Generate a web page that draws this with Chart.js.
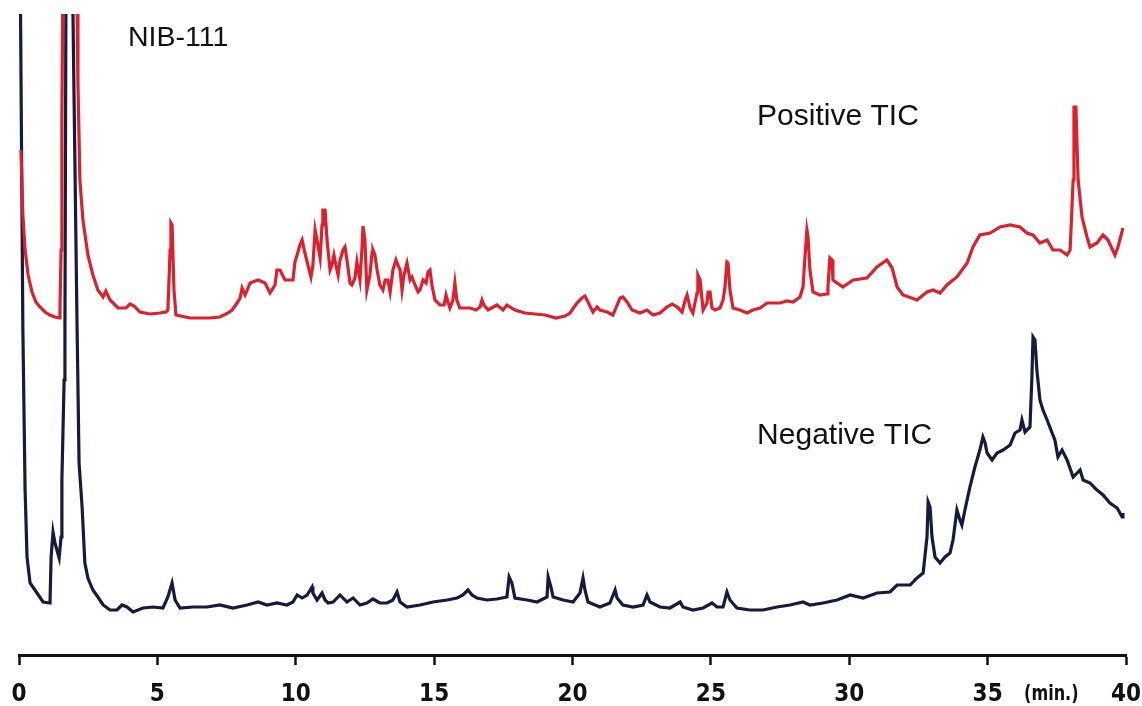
<!DOCTYPE html>
<html>
<head>
<meta charset="utf-8">
<title>NIB-111 TIC</title>
<script src="https://cdn.jsdelivr.net/npm/chart.js@4.4.1/dist/chart.umd.min.js"></script>
<style>
    html, body { margin: 0; padding: 0; background: #fff; overflow: hidden; }
    #wrap { width: 1142px; height: 706px; }
</style>
</head>
<body>
<div id="wrap"><canvas id="tic" width="1142" height="706"></canvas></div>
<script>
// retention time (min) and intensity (arbitrary units)
const posTime = [0.07,0.14,0.22,0.33,0.47,0.61,0.76,0.94,1.12,1.30,1.45,1.48,1.52,1.55,1.59,1.84,2.06,2.10,2.13,2.20,
    2.31,2.49,2.67,2.85,3.04,3.14,3.29,3.58,3.87,4.01,4.16,4.37,4.73,5.09,5.31,5.38,5.46,5.49,5.53,5.60,
    5.67,6.18,6.54,6.90,7.26,7.55,7.70,7.88,7.99,8.06,8.17,8.35,8.64,8.89,9.07,9.25,9.32,9.43,9.61,9.90,
    9.97,10.05,10.15,10.23,10.33,10.44,10.55,10.62,10.70,10.80,10.88,10.95,10.98,11.06,11.13,11.24,11.31,11.38,11.45,11.53,
    11.60,11.71,11.78,11.85,11.96,12.03,12.14,12.21,12.32,12.39,12.43,12.50,12.57,12.68,12.76,12.79,12.86,12.94,13.04,13.15,
    13.23,13.33,13.41,13.51,13.62,13.69,13.77,13.84,13.91,14.02,14.13,14.20,14.31,14.42,14.49,14.60,14.71,14.78,14.85,14.92,
    15.03,15.21,15.36,15.43,15.50,15.57,15.68,15.75,15.82,15.93,16.30,16.51,16.66,16.73,16.80,16.95,17.27,17.49,17.63,17.92,
    18.28,18.65,19.01,19.40,19.73,19.91,20.16,20.34,20.45,20.56,20.74,20.89,20.99,21.25,21.46,21.72,21.82,21.97,22.15,22.44,
    22.69,22.91,23.16,23.41,23.60,23.78,23.96,24.07,24.14,24.25,24.35,24.50,24.53,24.61,24.72,24.86,24.90,24.97,25.04,25.15,
    25.33,25.44,25.51,25.58,25.62,25.69,25.80,26.05,26.31,26.52,26.78,27.03,27.50,27.75,27.97,28.22,28.33,28.40,28.47,28.51,
    28.58,28.69,28.94,29.20,29.23,29.30,29.38,29.41,29.56,29.77,30.14,30.64,31.00,31.36,31.55,31.73,31.94,32.45,32.81,33.03,
    33.28,33.53,33.89,34.26,34.47,34.72,35.09,35.45,35.81,36.17,36.42,36.64,36.89,37.15,37.36,37.62,37.87,37.98,38.09,38.12,
    38.19,38.27,38.41,38.59,38.70,38.95,39.17,39.35,39.60,39.71,39.89];
const posInt = [505,440,405,380,363,353,348,343,340,338,337,345,405,535,700,800,700,641,572,475,
    435,400,380,365,358,364,355,347,347,351,349,343,341,342,343,345,405,432,430,365,
    340,337,337,337,338,342,345,352,357,367,360,372,375,372,362,370,385,385,375,375,
    393,400,410,415,402,390,378,390,425,410,397,430,445,445,415,385,390,400,390,380,
    395,405,408,395,372,370,377,393,375,405,429,415,365,380,403,405,400,385,370,365,
    375,375,363,385,395,390,385,365,380,392,375,378,370,363,365,375,372,383,385,370,
    355,350,350,360,353,347,355,372,355,347,347,345,348,355,350,345,350,345,350,345,
    342,341,340,337,339,342,352,357,359,353,343,348,345,343,340,357,358,353,345,342,
    345,340,342,348,351,348,343,355,360,347,342,362,380,375,345,352,363,363,347,345,
    347,355,368,393,392,365,347,345,342,345,347,352,352,354,353,358,368,398,425,418,
    385,363,360,361,368,397,395,375,372,368,375,377,388,395,387,368,360,355,363,365,
    362,370,378,392,408,420,422,428,430,428,422,420,412,415,405,405,400,405,475,548,
    548,475,438,418,408,412,420,415,400,408,427];

const negTime = [0.04,0.14,0.22,0.29,0.40,0.65,0.87,1.12,1.16,1.23,1.30,1.37,1.45,1.52,1.55,1.63,1.66,1.70,1.84,1.95,
    2.10,2.17,2.28,2.38,2.49,2.67,2.85,3.04,3.29,3.54,3.72,3.90,4.12,4.48,4.84,5.20,5.38,5.53,5.64,5.82,
    6.29,6.79,7.26,7.73,8.24,8.64,8.96,9.32,9.68,9.90,10.05,10.23,10.41,10.59,10.62,10.77,10.95,11.06,11.17,11.35,
    11.60,11.85,12.07,12.32,12.57,12.79,13.04,13.30,13.51,13.66,13.77,14.02,14.49,14.96,15.47,15.83,16.04,16.22,16.37,16.55,
    16.91,17.27,17.63,17.71,17.81,17.92,18.36,18.72,19.08,19.12,19.22,19.30,19.66,20.02,20.27,20.38,20.45,20.56,20.99,21.35,
    21.54,21.61,21.82,22.19,22.55,22.69,22.80,23.16,23.52,23.89,23.99,24.35,24.72,25.04,25.22,25.44,25.58,25.69,25.94,26.41,
    26.88,27.39,27.86,28.33,28.58,29.05,29.56,30.03,30.50,31.00,31.47,31.73,32.20,32.45,32.67,32.81,32.85,32.92,32.99,33.10,
    33.28,33.46,33.64,33.75,33.89,34.00,34.07,34.18,34.36,34.54,34.72,34.83,34.91,34.98,35.16,35.34,35.56,35.81,35.99,36.17,
    36.24,36.35,36.53,36.60,36.64,36.71,36.78,36.89,37.00,37.15,37.33,37.43,37.54,37.69,37.87,38.09,38.34,38.45,38.70,38.95,
    39.17,39.42,39.68,39.86,39.89];
const negInt = [700,325,165,98,72,62,53,52,98,123,112,105,97,118,175,275,325,700,800,641,
    325,192,148,92,77,65,58,50,45,45,50,48,43,47,48,47,58,72,55,47,
    48,48,50,47,50,53,50,52,50,53,60,57,60,68,62,55,62,55,52,53,
    60,53,57,50,52,56,52,52,55,63,53,48,50,53,55,57,60,65,60,57,
    55,56,58,78,72,57,55,53,58,78,68,58,55,53,62,77,65,53,48,52,
    65,57,50,48,50,60,53,48,47,53,48,45,47,52,48,48,63,55,47,45,
    45,48,50,53,50,52,55,60,57,62,63,70,70,77,82,118,153,148,118,98,
    92,98,102,115,145,135,130,145,168,188,205,218,212,202,195,202,205,210,222,225,
    235,223,228,278,318,315,285,255,245,235,222,215,198,205,195,178,185,175,172,165,
    160,152,147,138,142];

const xTicks = [0, 5, 10, 15, 20, 25, 30, 35, 40];
const unitLabel = '(min.)';

const narrow = '"Liberation Sans Narrow", "Arial Narrow", "DejaVu Sans Condensed", sans-serif';
const plain = '"Liberation Sans", Arial, Helvetica, sans-serif';

// text labels placed in data coordinates
const notes = {
    id: 'notes',
    afterDraw(chart) {
        const { ctx, scales: { x, y } } = chart;
        ctx.save();
        ctx.fillStyle = '#111';
        ctx.textBaseline = 'middle';
        ctx.textAlign = 'left';
        ctx.font = '28.5px ' + plain;
        ctx.fillText('NIB-111', x.getPixelForValue(3.94), y.getPixelForValue(617));
        ctx.font = '30px ' + plain;
        ctx.fillText('Positive TIC', x.getPixelForValue(26.67), y.getPixelForValue(538));
        ctx.fillText('Negative TIC', x.getPixelForValue(26.67), y.getPixelForValue(219));
        // unit label sits between the last two ticks, squeezed like a narrow face
        ctx.translate(x.getPixelForValue(37.3), x.top + 40);
        ctx.scale(0.85, 1);
        ctx.textAlign = 'center';
        ctx.font = 'bold 21px ' + narrow;
        ctx.fillText(unitLabel, 0, 0);
        ctx.restore();
    }
};

const toPoints = (ts, vs) => ts.map((t, i) => ({ x: t, y: vs[i] }));

new Chart(document.getElementById('tic'), {
    type: 'line',
    data: {
        datasets: [
            {
                label: 'Positive TIC',
                data: toPoints(posTime, posInt),
                borderColor: '#e01f2d',
                borderWidth: 3.2
            },
            {
                label: 'Negative TIC',
                data: toPoints(negTime, negInt),
                borderColor: '#151b3f',
                borderWidth: 3.2
            }
        ]
    },
    options: {
        responsive: false,
        animation: false,
        devicePixelRatio: 1,
        layout: { padding: { left: 19, right: 16, top: 14, bottom: 0 } },
        elements: {
            point: { radius: 0 },
            line: { tension: 0 }
        },
        scales: {
            x: {
                type: 'linear',
                min: 0,
                max: 40,
                afterBuildTicks: (axis) => { axis.ticks = xTicks.map(v => ({ value: v })); },
                // fixed axis band, plot edges where the layout padding puts them
                afterFit: (axis) => {
                    axis.paddingLeft = 0;
                    axis.paddingRight = 0;
                    axis.height = 51;
                },
                ticks: {
                    color: '#111',
                    padding: 15,
                    maxRotation: 0,
                    font: { family: narrow, size: 24, weight: 'bold' }
                },
                grid: {
                    drawOnChartArea: false,
                    drawTicks: true,
                    tickLength: 10,
                    tickWidth: 2.5,
                    tickColor: '#111'
                },
                border: { display: true, color: '#111', width: 3 }
            },
            y: {
                display: false,
                min: 0,
                max: 641
            }
        },
        plugins: {
            legend: { display: false },
            tooltip: { enabled: false }
        }
    },
    plugins: [notes]
});
</script>
</body>
</html>
